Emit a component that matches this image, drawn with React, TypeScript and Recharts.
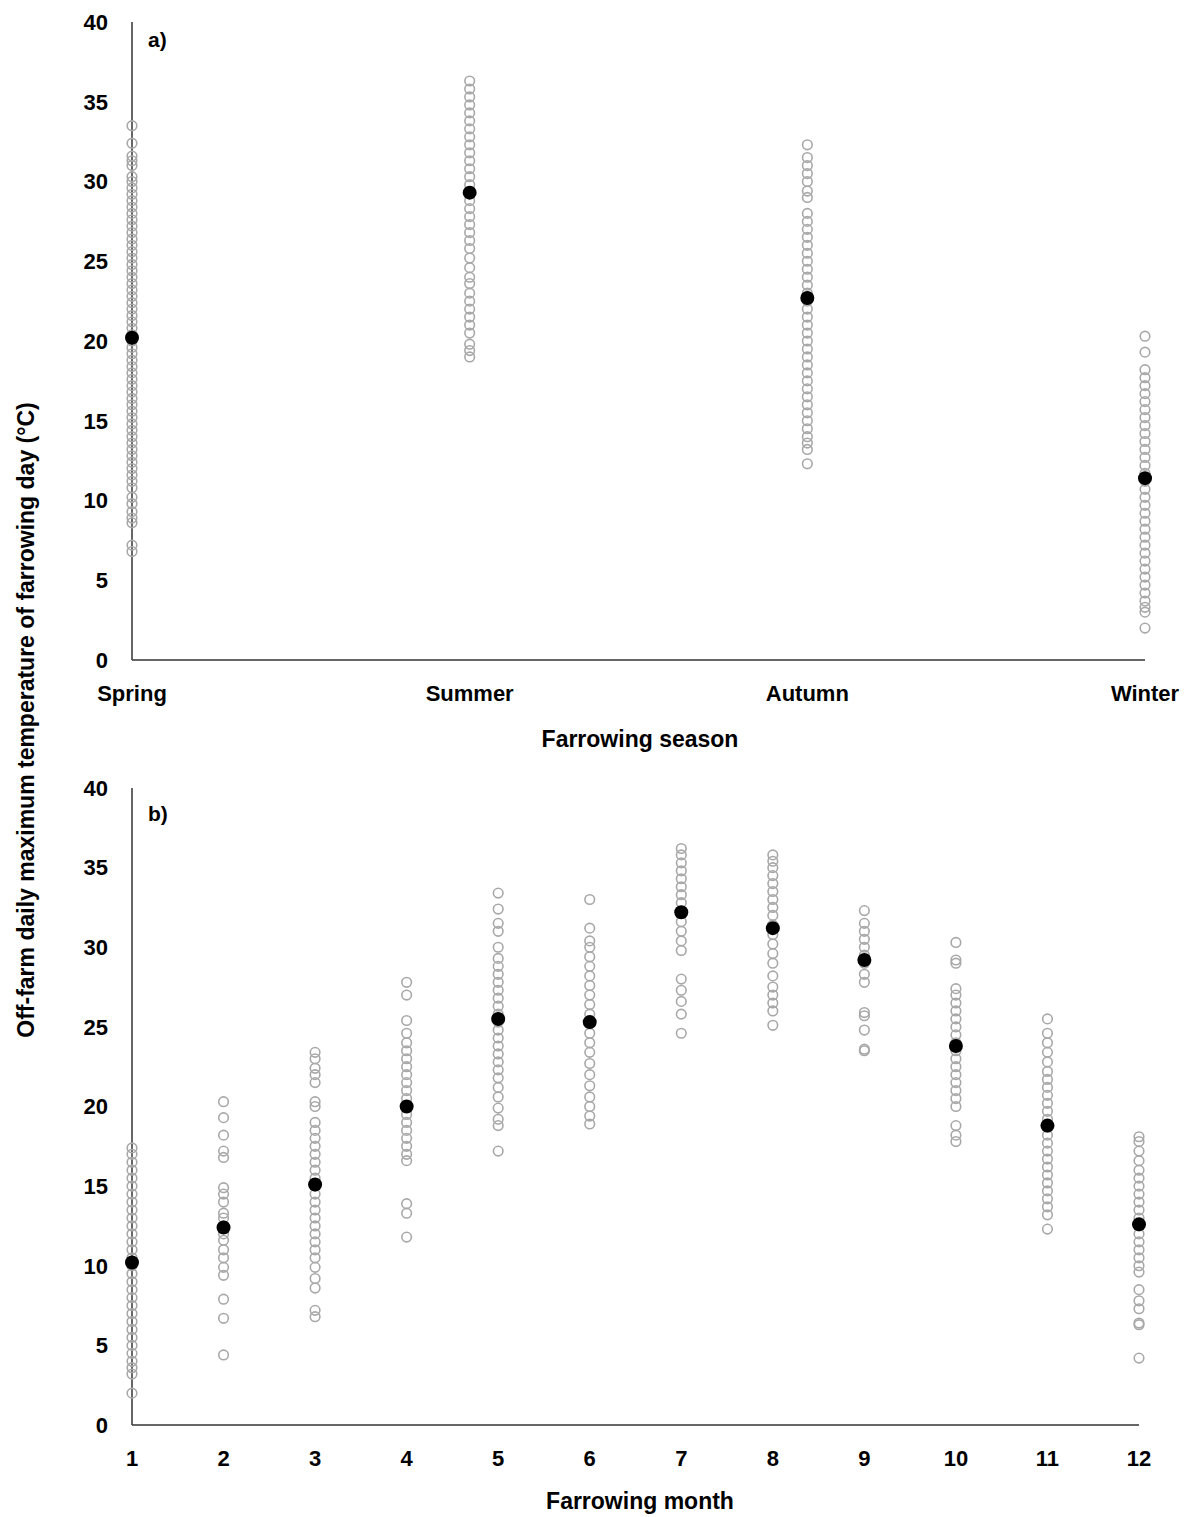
import React from "react";
import { ScatterChart, Scatter, XAxis, YAxis } from "recharts";

const seasons = ["Spring", "Summer", "Autumn", "Winter"];
const springVals = [6.8,7.2,8.6,8.9,9.3,9.8,10.2,10.8,11.2,11.6,12,12.4,12.8,13.2,13.6,14,14.4,14.8,15.2,15.6,16,16.4,16.8,17.2,17.6,18,18.4,18.8,19.2,19.6,20,20.4,20.8,21.2,21.6,22,22.4,22.8,23.2,23.6,24,24.4,24.8,25.2,25.6,26,26.4,26.8,27.2,27.6,28,28.4,28.8,29.2,29.6,30,30.3,31,31.3,31.6,32.4,33.5];
const summerVals = [19,19.4,19.8,20.5,21,21.5,22,22.5,23,23.6,24,24.6,25.2,25.8,26.3,26.8,27.3,27.8,28.3,28.8,29.3,29.8,30.3,30.8,31.3,31.8,32.3,32.8,33.3,33.8,34.3,34.8,35.3,35.8,36.3];
const autumnVals = [12.3,13.2,13.6,14,14.5,15,15.5,16,16.5,17,17.5,18,18.5,19,19.5,20,20.5,21,21.5,22,22.5,23,23.5,24,24.5,25,25.5,26,26.5,27,27.5,28,29,29.4,30,30.5,31,31.5,32.3];
const winterVals = [2,3,3.3,3.7,4.2,4.7,5.2,5.7,6.2,6.7,7.2,7.7,8.2,8.7,9.2,9.7,10.2,10.7,11.2,11.7,12.2,12.7,13.2,13.7,14.2,14.7,15.2,15.7,16.2,16.7,17.2,17.7,18.2,19.3,20.3];
const seasonMeans = [20.2, 29.3, 22.7, 11.4];

const monthVals: number[][] = [
  [2,3.2,3.6,4,4.5,5,5.5,6,6.5,7,7.5,8,8.5,9,9.5,10,10.5,11,11.5,12,12.5,13,13.5,14,14.5,15,15.5,16,16.5,17,17.4],
  [4.4,6.7,7.9,9.4,9.9,10.5,11,11.6,12,12.5,13,13.3,14,14.5,14.9,16.8,17.2,18.2,19.3,20.3],
  [6.8,7.2,8.6,9.2,9.9,10.5,11,11.5,12,12.5,13,13.5,14,14.5,15,15.5,16,16.5,17,17.5,18,18.5,19,20,20.3,21.5,22,22.4,23,23.4],
  [11.8,13.3,13.9,16.6,17,17.5,18,18.5,19,19.5,20,20.5,21,21.5,22,22.5,23,23.5,24,24.6,25.4,27,27.8],
  [17.2,18.8,19.2,19.9,20.6,21.2,21.8,22.3,22.8,23.3,23.8,24.3,24.8,25.3,25.8,26.3,26.8,27.3,27.8,28.3,28.8,29.3,30,31,31.5,32.4,33.4],
  [18.9,19.4,20,20.6,21.3,22,22.7,23.4,24,24.6,25.2,25.8,26.4,27,27.6,28.2,28.8,29.4,30,30.4,31.2,33],
  [24.6,25.8,26.6,27.3,28,29.8,30.4,31,31.6,32.2,32.8,33.3,33.8,34.3,34.8,35.3,35.8,36.2],
  [25.1,26,26.5,27,27.5,28.2,29,29.6,30.2,30.8,31.4,32,32.5,33,33.5,34,34.5,35,35.4,35.8],
  [23.5,23.6,24.8,25.7,25.9,27.8,28.3,29,29.5,30,30.5,31,31.5,32.3],
  [17.8,18.2,18.8,20,20.5,21,21.5,22,22.5,23,23.5,24,24.5,25,25.5,26,26.5,27,27.4,29,29.2,30.3],
  [12.3,13.2,13.7,14.2,14.7,15.2,15.7,16.2,16.7,17.2,17.7,18.2,18.7,19.2,19.7,20.2,20.7,21.2,21.7,22.2,22.8,23.4,24,24.6,25.5],
  [4.2,6.3,6.4,7.3,7.8,8.5,9.6,10,10.5,11,11.5,12,12.5,13,13.5,14,14.5,15,15.5,16,16.6,17.2,17.8,18.1],
];
const monthMeans = [10.2,12.4,15.1,20,25.5,25.3,32.2,31.2,29.2,23.8,18.8,12.6];
const yTicks = [0,5,10,15,20,25,30,35,40];
const months = [1,2,3,4,5,6,7,8,9,10,11,12];

const seasonPts = [springVals, summerVals, autumnVals, winterVals].flatMap((vs, i) => vs.map((y) => ({ x: i, y })));
const seasonMeanPts = seasonMeans.map((y, i) => ({ x: i, y }));
const monthPts = monthVals.flatMap((vs, i) => vs.map((y) => ({ x: i + 1, y })));
const monthMeanPts = monthMeans.map((y, i) => ({ x: i + 1, y }));

const font = "'Liberation Sans', Arial, sans-serif";
const tickStyle = { fill: "#000", fontWeight: 700, fontSize: 22, fontFamily: font };

const Open = (p: any) => <circle cx={p.cx} cy={p.cy} r={4.8} fill="none" stroke="#a8a8a8" strokeWidth={1.6} />;
const Filled = (p: any) => <circle cx={p.cx} cy={p.cy} r={7} fill="#000" />;

function Panel({ pts, means, domain, ticks, fmt, w, h, margin }: any) {
  return (
    <ScatterChart width={w} height={h} margin={margin}>
      <XAxis type="number" dataKey="x" domain={domain} ticks={ticks} tickFormatter={fmt} height={2}
        axisLine={{ stroke: "#333", strokeWidth: 1.5 }} tickLine={false} tick={tickStyle} tickMargin={19} interval={0} />
      <YAxis type="number" dataKey="y" domain={[0, 40]} ticks={yTicks} width={2}
        axisLine={{ stroke: "#333", strokeWidth: 1.5 }} tickLine={false} tick={tickStyle} tickMargin={18} interval={0} />
      <Scatter data={pts} shape={Open} isAnimationActive={false} />
      <Scatter data={means} shape={Filled} isAnimationActive={false} />
    </ScatterChart>
  );
}

const txt = (s: React.CSSProperties): React.CSSProperties => ({ position: "absolute", fontFamily: font, fontWeight: 700, fontSize: 23, color: "#000", whiteSpace: "nowrap", ...s });

export default function App() {
  return (
    <div style={{ position: "absolute", left: 0, top: 0, width: 1192, height: 1517, background: "#fff" }}>
      <div style={{ position: "absolute", left: 0, top: 0 }}>
        <Panel pts={seasonPts} means={seasonMeanPts} domain={[0, 3]} ticks={[0, 1, 2, 3]} fmt={(v: number) => seasons[v]}
          w={1192} h={760} margin={{ top: 22, left: 130, right: 47, bottom: 98 }} />
      </div>
      <div style={{ position: "absolute", left: 0, top: 766 }}>
        <Panel pts={monthPts} means={monthMeanPts} domain={[1, 12]} ticks={months} fmt={(v: number) => String(v)}
          w={1192} h={751} margin={{ top: 22, left: 130, right: 53, bottom: 90 }} />
      </div>
      <div style={txt({ left: 148, top: 28, fontSize: 21 })}>a)</div>
      <div style={txt({ left: 148, top: 802, fontSize: 21 })}>b)</div>
      <div style={txt({ left: 0, width: 1280, textAlign: "center", top: 726 })}>Farrowing season</div>
      <div style={txt({ left: 0, width: 1280, textAlign: "center", top: 1488 })}>Farrowing month</div>
      <div style={txt({ left: 26, top: 720, transform: "translate(-50%, -50%) rotate(-90deg)" })}>
        Off-farm daily maximum temperature of farrowing day (°C)
      </div>
    </div>
  );
}
